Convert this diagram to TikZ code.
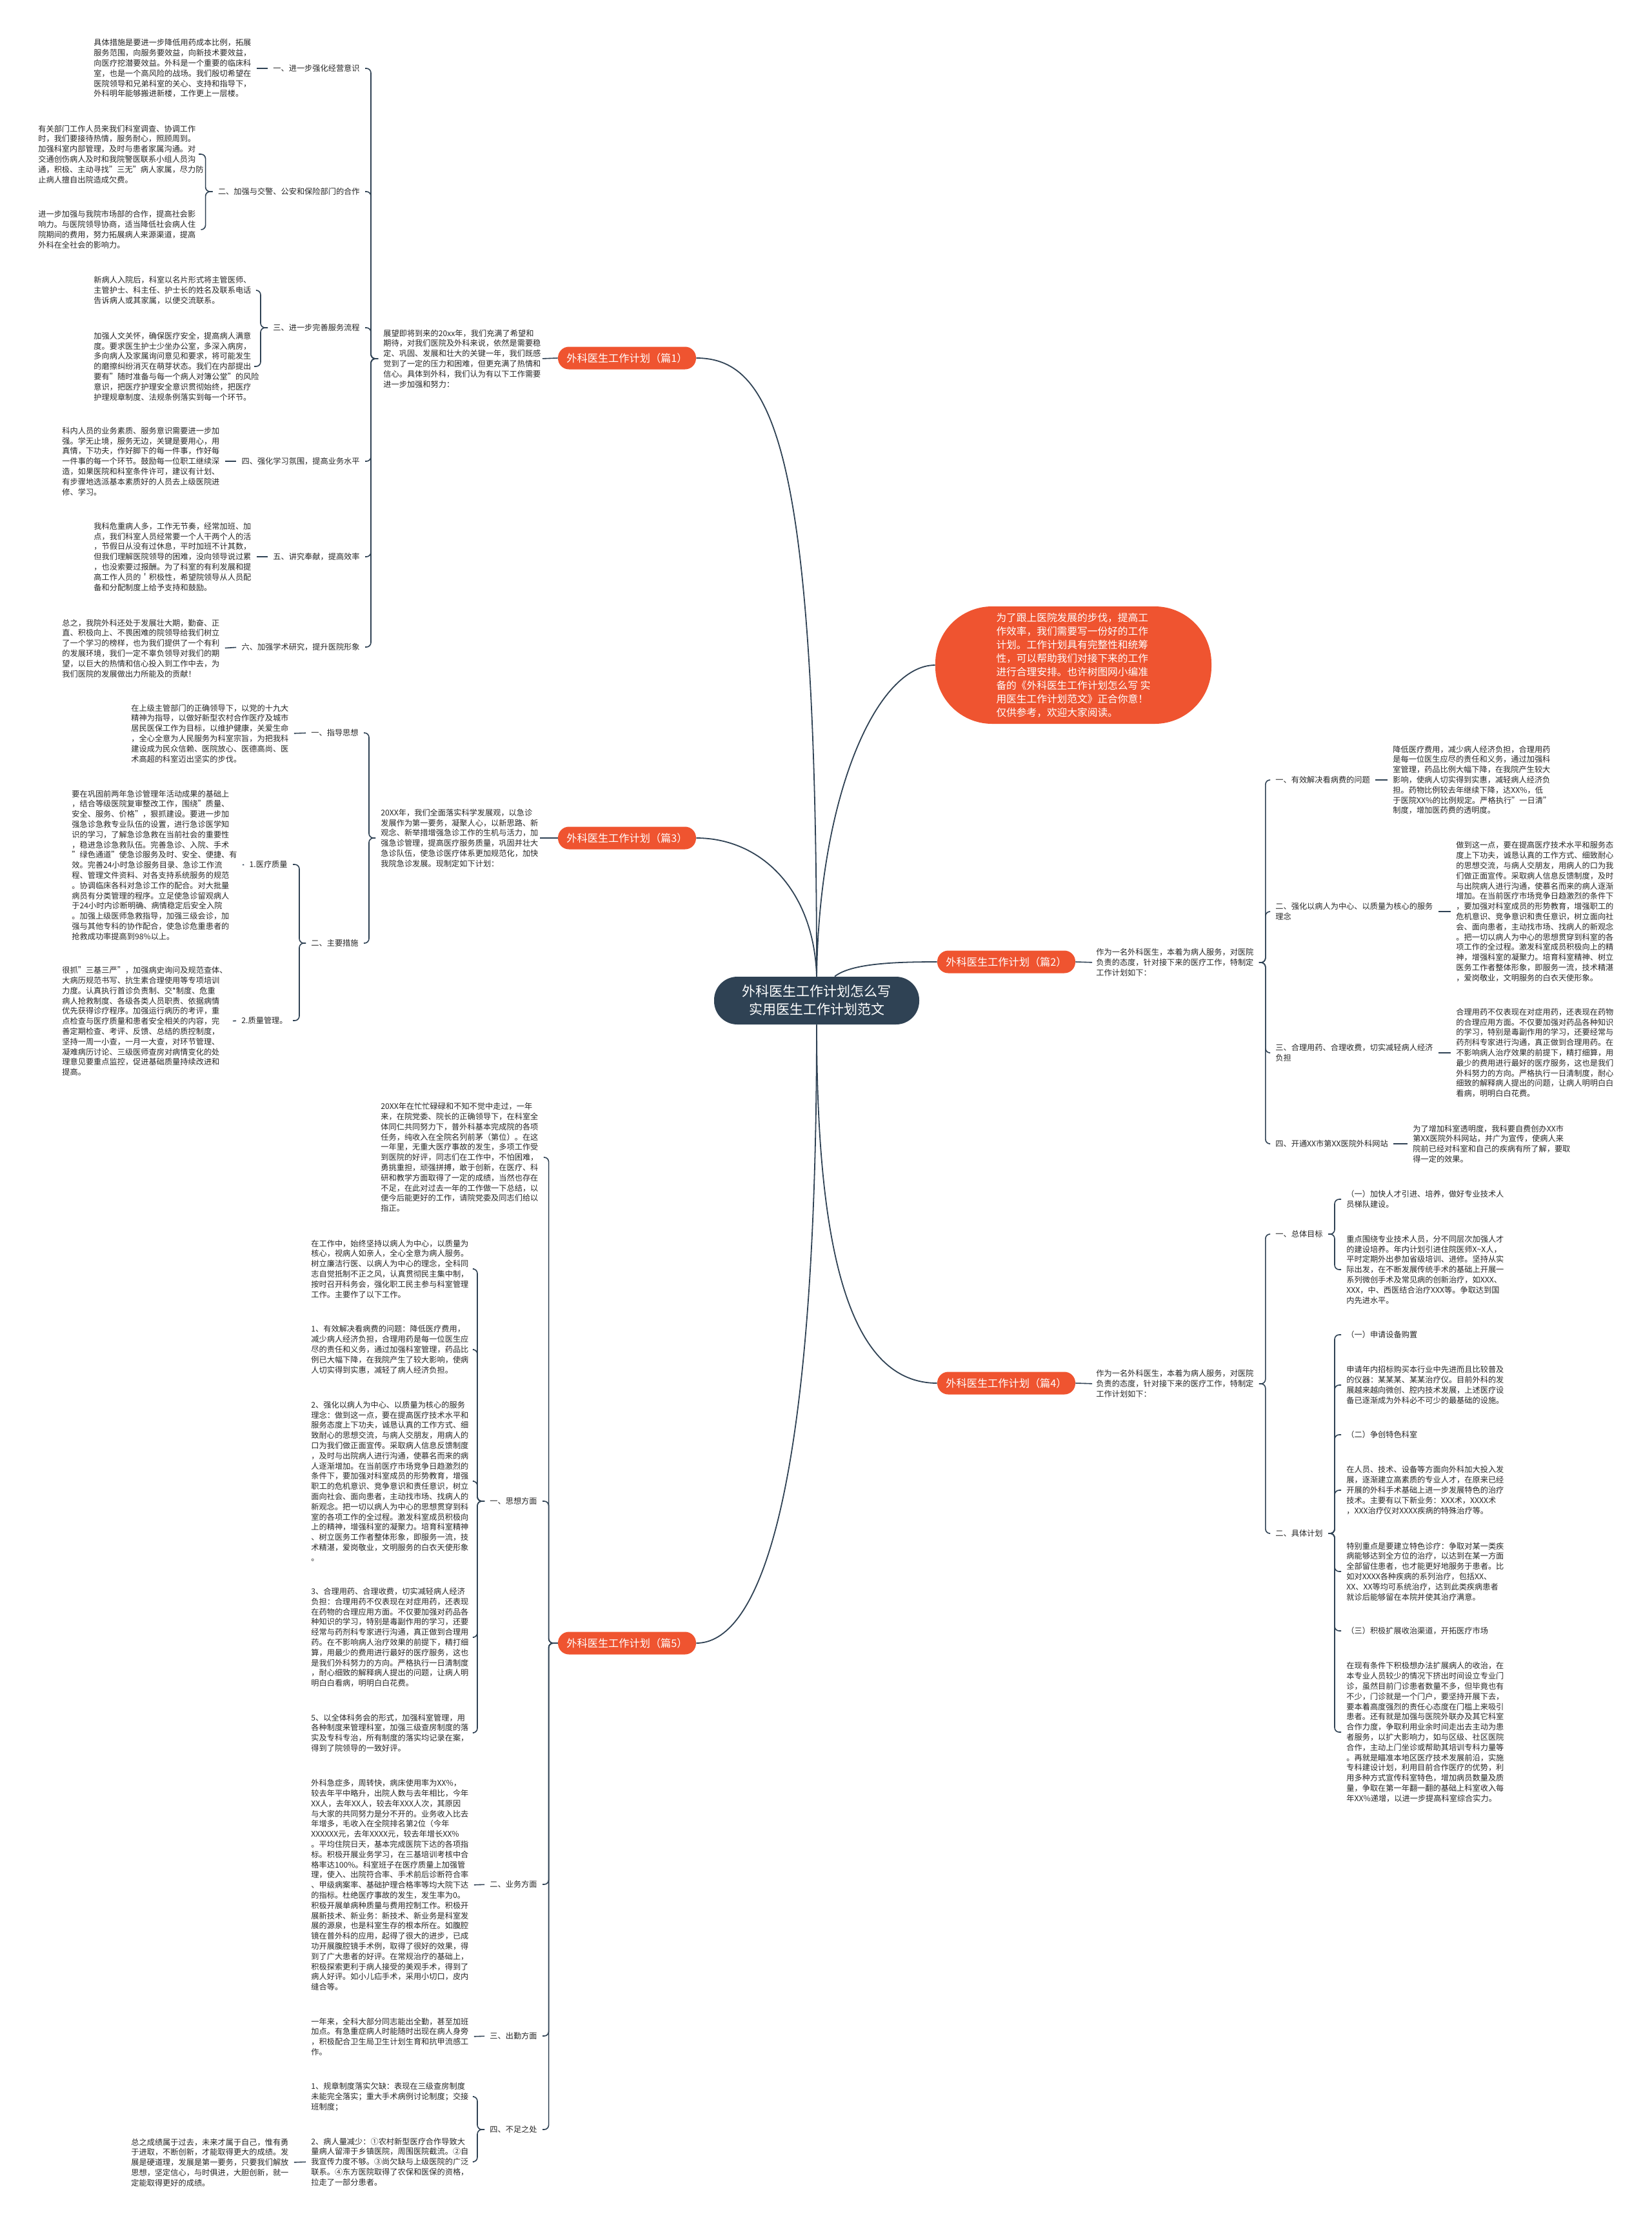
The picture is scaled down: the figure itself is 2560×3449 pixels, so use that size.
\documentclass[tikz,border=0pt]{standalone}
\usepackage{fontspec}
\setmainfont{Noto Sans CJK SC}
\definecolor{ink}{HTML}{2F4254}
\definecolor{accent}{HTML}{EF5430}

\begin{document}
\begin{tikzpicture}[
        x=0.5pt, y=-0.5pt,
        leaf/.style={inner sep=0pt, align=left, text=black!85, font=\fontsize{6.1pt}{7.9pt}\selectfont},
        branch/.style={fill=accent, text=white, rounded corners=8.5pt, minimum width=107pt, minimum height=17.5pt, inner sep=0pt, font=\fontsize{8.1pt}{10pt}\selectfont},
        root/.style={fill=ink, text=white, rounded corners=18pt, minimum width=159pt, minimum height=37pt, align=center, font=\fontsize{10.5pt}{14pt}\selectfont},
        intro/.style={fill=accent, text=white, rounded corners=44pt, minimum width=214pt, minimum height=91pt, align=left, font=\fontsize{7.85pt}{10.5pt}\selectfont},
        link/.style={draw=ink, line width=0.8pt, shorten <=4pt, shorten >=4pt},
        fork/.style={link, rounded corners=3.5pt},
        stem/.style={draw=ink, line width=0.9pt}
    ]
        \useasboundingbox (0,0) rectangle (2560,3449);

        \node[root] (root) at (1266,1551) {外科医生工作计划怎么写\\实用医生工作计划范文};
        \node[intro] (intro) at (1664,1031) {为了跟上医院发展的步伐，提高工\\作效率，我们需要写一份好的工作\\计划。工作计划具有完整性和统筹\\性，可以帮助我们对接下来的工作\\进行合理安排。也许树图网小编准\\备的《外科医生工作计划怎么写 实\\用医生工作计划范文》正合你意！\\仅供参考，欢迎大家阅读。};

        \node[branch] (p1) at (972,555) {外科医生工作计划（篇1）};
        \node[branch] (p3) at (972,1299) {外科医生工作计划（篇3）};
        \node[branch] (p5) at (972,2547) {外科医生工作计划（篇5）};
        \node[branch] (p2) at (1560,1491) {外科医生工作计划（篇2）};
        \node[branch] (p4) at (1560,2144) {外科医生工作计划（篇4）};

        \draw[stem] (root.north) .. controls (1266,700) and (1200,555) .. (p1.east);
        \draw[stem] (root.north) .. controls (1262,1380) and (1180,1299) .. (p3.east);
        \draw[stem] (root.north) .. controls (1270,1230) and (1360,1031) .. (intro.west);
        \draw[stem] ([xshift=14pt]root.north) .. controls (1320,1493) and (1390,1491) .. (p2.west);
        \draw[stem] (root.south) .. controls (1266,1950) and (1320,2144) .. (p4.west);
        \draw[stem] (root.south) .. controls (1266,2350) and (1170,2547) .. (p5.east);

        % 篇1
        \node[leaf, anchor=west] (p1-intro) at (594,556) {展望即将到来的20xx年，我们充满了希望和\\期待，对我们医院及外科来说，依然是需要稳\\定、巩固、发展和壮大的关键一年，我们既感\\觉到了一定的压力和困难，但更充满了热情和\\信心。具体到外科，我们认为有以下工作需要\\进一步加强和努力：};
        \node[leaf, anchor=east] (p1-s1) at (558,106) {一、进一步强化经营意识};
        \node[leaf, anchor=west] (p1-s1-t) at (145,106) {具体措施是要进一步降低用药成本比例，拓展\\服务范围，向服务要效益，向新技术要效益，\\向医疗挖潜要效益。外科是一个重要的临床科\\室，也是一个高风险的战场。我们殷切希望在\\医院领导和兄弟科室的关心、支持和指导下，\\外科明年能够搬进新楼，工作更上一层楼。};
        \node[leaf, anchor=east] (p1-s2) at (558,297) {二、加强与交警、公安和保险部门的合作};
        \node[leaf, anchor=west] (p1-s2-t1) at (59,239) {有关部门工作人员来我们科室调查、协调工作\\时，我们要接待热情，服务耐心，照顾周到。\\加强科室内部管理，及时与患者家属沟通。对\\交通创伤病人及时和我院警医联系小组人员沟\\通，积极、主动寻找"三无"病人家属，尽力防\\止病人擅自出院造成欠费。};
        \node[leaf, anchor=west] (p1-s2-t2) at (59,356) {进一步加强与我院市场部的合作，提高社会影\\响力。与医院领导协商，适当降低社会病人住\\院期间的费用，努力拓展病人来源渠道，提高\\外科在全社会的影响力。};
        \node[leaf, anchor=east] (p1-s3) at (558,508) {三、进一步完善服务流程};
        \node[leaf, anchor=west] (p1-s3-t1) at (145,450) {新病人入院后，科室以名片形式将主管医师、\\主管护士、科主任、护士长的姓名及联系电话\\告诉病人或其家属，以便交流联系。};
        \node[leaf, anchor=west] (p1-s3-t2) at (145,568) {加强人文关怀，确保医疗安全，提高病人满意\\度。要求医生护士少坐办公室，多深入病房，\\多向病人及家属询问意见和要求，将可能发生\\的磨擦纠纷消灭在萌芽状态。我们在内部提出\\要有"随时准备与每一个病人对簿公堂"的风险\\意识，把医疗护理安全意识贯彻始终，把医疗\\护理规章制度、法规条例落实到每一个环节。};
        \node[leaf, anchor=east] (p1-s4) at (558,715) {四、强化学习氛围，提高业务水平};
        \node[leaf, anchor=west] (p1-s4-t) at (96,715) {科内人员的业务素质、服务意识需要进一步加\\强。学无止境，服务无边，关键是要用心，用\\真情，下功夫，作好脚下的每一件事，作好每\\一件事的每一个环节。鼓励每一位职工继续深\\造，如果医院和科室条件许可，建议有计划、\\有步骤地选派基本素质好的人员去上级医院进\\修、学习。};
        \node[leaf, anchor=east] (p1-s5) at (558,863) {五、讲究奉献，提高效率};
        \node[leaf, anchor=west] (p1-s5-t) at (145,863) {我科危重病人多，工作无节奏，经常加班、加\\点，我们科室人员经常要一个人干两个人的活\\，节假日从没有过休息，平时加班不计其数，\\但我们理解医院领导的困难，没向领导说过累\\，也没索要过报酬。为了科室的有利发展和提\\高工作人员的＇积极性，希望院领导从人员配\\备和分配制度上给予支持和鼓励。};
        \node[leaf, anchor=east] (p1-s6) at (558,1003) {六、加强学术研究，提升医院形象};
        \node[leaf, anchor=west] (p1-s6-t) at (96,1005) {总之，我院外科还处于发展壮大期，勤奋、正\\直、积极向上、不畏困难的院领导给我们树立\\了一个学习的榜样，也为我们提供了一个有利\\的发展环境，我们一定不辜负领导对我们的期\\望，以巨大的热情和信心投入到工作中去，为\\我们医院的发展做出力所能及的贡献！};

        \draw[link, shorten <=0pt, shorten >=1pt] (p1.west) -- (p1-intro.east);
        \draw[fork] (p1-intro.west) -- ++(-19,0) |- (p1-s1.east);
        \draw[fork] (p1-intro.west) -- ++(-19,0) |- (p1-s2.east);
        \draw[fork] (p1-intro.west) -- ++(-19,0) |- (p1-s3.east);
        \draw[fork] (p1-intro.west) -- ++(-19,0) |- (p1-s4.east);
        \draw[fork] (p1-intro.west) -- ++(-19,0) |- (p1-s5.east);
        \draw[fork] (p1-intro.west) -- ++(-19,0) |- (p1-s6.east);
        \draw[link] (p1-s1.west) -- (p1-s1-t.east);
        \draw[fork] (p1-s2.west) -- ++(-19,0) |- (p1-s2-t1.east);
        \draw[fork] (p1-s2.west) -- ++(-19,0) |- (p1-s2-t2.east);
        \draw[fork] (p1-s3.west) -- ++(-19,0) |- (p1-s3-t1.east);
        \draw[fork] (p1-s3.west) -- ++(-19,0) |- (p1-s3-t2.east);
        \draw[link] (p1-s4.west) -- (p1-s4-t.east);
        \draw[link] (p1-s5.west) -- (p1-s5-t.east);
        \draw[link] (p1-s6.west) -- (p1-s6-t.east);

        % 篇3
        \node[leaf, anchor=west] (p3-intro) at (590,1299) {20XX年，我们全面落实科学发展观，以急诊\\发展作为第一要务，凝聚人心，以新思路、新\\观念、新举措增强急诊工作的生机与活力，加\\强急诊管理，提高医疗服务质量，巩固并壮大\\急诊队伍，使急诊医疗体系更加规范化，加快\\我院急诊发展。现制定如下计划：};
        \node[leaf, anchor=east] (p3-s1) at (556,1136) {一、指导思想};
        \node[leaf, anchor=west] (p3-s1-t) at (203,1137) {在上级主管部门的正确领导下，以党的十九大\\精神为指导，以做好新型农村合作医疗及城市\\居民医保工作为目标，以维护健康，关爱生命\\，全心全意为人民服务为科室宗旨，为把我科\\建设成为民众信赖、医院放心、医德高尚、医\\术高超的科室迈出坚实的步伐。};
        \node[leaf, anchor=east] (p3-s2) at (556,1462) {二、主要措施};
        \node[leaf, anchor=east] (p3-s2-a) at (446,1340) {1.医疗质量};
        \node[leaf, anchor=west] (p3-s2-a-t) at (111,1341) {要在巩固前两年急诊管理年活动成果的基础上\\，结合等级医院复审整改工作，围绕"质量、\\安全、服务、价格"，狠抓建设。要进一步加\\强急诊急救专业队伍的设置，进行急诊医学知\\识的学习，了解急诊急救在当前社会的重要性\\，稳进急诊急救队伍。完善急诊、入院、手术\\"绿色通道"使急诊服务及时、安全、便捷、有\\效。完善24小时急诊服务目录、急诊工作流\\程、管理文件资料、对各支持系统服务的规范\\。协调临床各科对急诊工作的配合。对大批量\\病员有分类管理的程序。立足使急诊留观病人\\于24小时内诊断明确、病情稳定后安全入院\\。加强上级医师急救指导，加强三级会诊，加\\强与其他专科的协作配合，使急诊危重患者的\\抢救成功率提高到98\%以上。};
        \node[leaf, anchor=east] (p3-s2-b) at (446,1582) {2.质量管理。};
        \node[leaf, anchor=west] (p3-s2-b-t) at (96,1583) {很抓"三基三严"，加强病史询问及规范查体、\\大病历规范书写、抗生素合理使用等专项培训\\力度。认真执行首诊负责制、交*制度、危重\\病人抢救制度、各级各类人员职责、依据病情\\优先获得诊疗程序。加强运行病历的考评，重\\点检查与医疗质量和患者安全相关的内容，完\\善定期检查、考评、反馈、总结的质控制度，\\坚持一周一小查，一月一大查，对环节管理、\\凝难病历讨论、三级医师查房对病情变化的处\\理意见要重点监控，促进基础质量持续改进和\\提高。};

        \draw[link, shorten <=0pt, shorten >=1pt] (p3.west) -- (p3-intro.east);
        \draw[fork] (p3-intro.west) -- ++(-18,0) |- (p3-s1.east);
        \draw[fork] (p3-intro.west) -- ++(-18,0) |- (p3-s2.east);
        \draw[link] (p3-s1.west) -- (p3-s1-t.east);
        \draw[fork] (p3-s2.west) -- ++(-18,0) |- (p3-s2-a.east);
        \draw[fork] (p3-s2.west) -- ++(-18,0) |- (p3-s2-b.east);
        \draw[link] (p3-s2-a.west) -- (p3-s2-a-t.east);
        \draw[link] (p3-s2-b.west) -- (p3-s2-b-t.east);

        % 篇5
        \node[leaf, anchor=west] (p5-intro) at (590,1794) {20XX年在忙忙碌碌和不知不觉中走过，一年\\来，在院党委、院长的正确领导下，在科室全\\体同仁共同努力下，普外科基本完成院的各项\\任务，纯收入在全院名列前茅（第位）。在这\\一年里，无重大医疗事故的发生，多项工作受\\到医院的好评，同志们在工作中，不怕困难，\\勇挑重担，顽强拼搏，敢于创新，在医疗、科\\研和教学方面取得了一定的成绩，当然也存在\\不足，在此对过去一年的工作做一下总结，以\\便今后能更好的工作，请院党委及同志们给以\\指正。};
        \node[leaf, anchor=east] (p5-s1) at (833,2327) {一、思想方面};
        \node[leaf, anchor=west] (p5-s1-t1) at (482,1967) {在工作中，始终坚持以病人为中心，以质量为\\核心，视病人如亲人，全心全意为病人服务。\\树立廉洁行医、以病人为中心的理念，全科同\\志自觉抵制不正之风，认真贯彻民主集中制，\\按时召开科务会，强化职工民主参与科室管理\\工作。主要作了以下工作。};
        \node[leaf, anchor=west] (p5-s1-t2) at (482,2092) {1、有效解决看病费的问题：降低医疗费用，\\减少病人经济负担，合理用药是每一位医生应\\尽的责任和义务，通过加强科室管理，药品比\\例已大幅下降，在我院产生了较大影响，使病\\人切实得到实惠，减轻了病人经济负担。};
        \node[leaf, anchor=west] (p5-s1-t3) at (482,2296) {2、强化以病人为中心、以质量为核心的服务\\理念：做到这一点，要在提高医疗技术水平和\\服务态度上下功夫，诚恳认真的工作方式、细\\致耐心的思想交流，与病人交朋友，用病人的\\口为我们做正面宣传。采取病人信息反馈制度\\，及时与出院病人进行沟通，使慕名而来的病\\人逐渐增加。在当前医疗市场竞争日趋激烈的\\条件下，要加强对科室成员的形势教育，增强\\职工的危机意识、竞争意识和责任意识，树立\\面向社会、面向患者，主动找市场、找病人的\\新观念。把一切以病人为中心的思想贯穿到科\\室的各项工作的全过程。激发科室成员积极向\\上的精神，增强科室的凝聚力。培育科室精神\\、树立医务工作者整体形象，即服务一流，技\\术精湛，爱岗敬业，文明服务的白衣天使形象\\。};
        \node[leaf, anchor=west] (p5-s1-t4) at (482,2538) {3、合理用药、合理收费，切实减轻病人经济\\负担：合理用药不仅表现在对症用药，还表现\\在药物的合理应用方面。不仅要加强对药品各\\种知识的学习，特别是毒副作用的学习，还要\\经常与药剂科专家进行沟通，真正做到合理用\\药。在不影响病人治疗效果的前提下，精打细\\算，用最少的费用进行最好的医疗服务，这也\\是我们外科努力的方向。严格执行一日清制度\\，耐心细致的解释病人提出的问题，让病人明\\明白白看病，明明白白花费。};
        \node[leaf, anchor=west] (p5-s1-t5) at (482,2686) {5、以全体科务会的形式，加强科室管理，用\\各种制度来管理科室，加强三级查房制度的落\\实及专科专治，所有制度的落实均记录在案，\\得到了院领导的一致好评。};
        \node[leaf, anchor=east] (p5-s2) at (833,2921) {二、业务方面};
        \node[leaf, anchor=west] (p5-s2-t) at (482,2922) {外科急症多，周转快，病床使用率为XX\%，\\较去年平中略升，出院人数与去年相比，今年\\XX人，去年XX人，较去年XXX人次，其原因\\与大家的共同努力是分不开的。业务收入比去\\年增多，毛收入在全院排名第2位（今年\\XXXXXX元，去年XXXX元，较去年增长XX\%\\。平均住院日天，基本完成医院下达的各项指\\标。积极开展业务学习，在三基培训考核中合\\格率达100\%。科室班子在医疗质量上加强管\\理，使入、出院符合率、手术前后诊断符合率\\、甲级病案率、基础护理合格率等均大院下达\\的指标。杜绝医疗事故的发生，发生率为0。\\积极开展单病种质量与费用控制工作。积极开\\展新技术、新业务：新技术、新业务是科室发\\展的源泉，也是科室生存的根本所在。如腹腔\\镜在普外科的应用，起得了很大的进步，已成\\功开展腹腔镜手术例，取得了很好的效果，得\\到了广大患者的好评。在常规治疗的基础上，\\积极探索更利于病人接受的美观手术，得到了\\病人好评。如小儿疝手术，采用小切口，皮内\\缝合等。};
        \node[leaf, anchor=east] (p5-s3) at (833,3156) {三、出勤方面};
        \node[leaf, anchor=west] (p5-s3-t) at (482,3157) {一年来，全科大部分同志能出全勤，甚至加班\\加点。有急重症病人时能随时出现在病人身旁\\，积极配合卫生局卫生计划生育和抗甲流感工\\作。};
        \node[leaf, anchor=east] (p5-s4) at (833,3301) {四、不足之处};
        \node[leaf, anchor=west] (p5-s4-t1) at (482,3250) {1、规章制度落实欠缺：表现在三级查房制度\\未能完全落实；重大手术病例讨论制度；交接\\班制度；};
        \node[leaf, anchor=west] (p5-s4-t2) at (482,3351) {2、病人量减少：①农村新型医疗合作导致大\\量病人留滞于乡镇医院，周围医院截流。②自\\我宣传力度不够。③尚欠缺与上级医院的广泛\\联系。④东方医院取得了农保和医保的资格，\\拉走了一部分患者。};
        \node[leaf, anchor=west] (p5-s4-t3) at (203,3352) {总之成绩属于过去，未来才属于自己，惟有勇\\于进取，不断创新，才能取得更大的成绩。发\\展是硬道理，发展是第一要务，只要我们解放\\思想，坚定信心，与时俱进，大胆创新，就一\\定能取得更好的成绩。};

        \draw[fork, shorten <=0pt] (p5.west) -- ++(-14,0) |- (p5-intro.east);
        \draw[fork, shorten <=0pt] (p5.west) -- ++(-14,0) |- (p5-s1.east);
        \draw[fork, shorten <=0pt] (p5.west) -- ++(-14,0) |- (p5-s2.east);
        \draw[fork, shorten <=0pt] (p5.west) -- ++(-14,0) |- (p5-s3.east);
        \draw[fork, shorten <=0pt] (p5.west) -- ++(-14,0) |- (p5-s4.east);
        \draw[fork] (p5-s1.west) -- ++(-19,0) |- (p5-s1-t1.east);
        \draw[fork] (p5-s1.west) -- ++(-19,0) |- (p5-s1-t2.east);
        \draw[fork] (p5-s1.west) -- ++(-19,0) |- (p5-s1-t3.east);
        \draw[fork] (p5-s1.west) -- ++(-19,0) |- (p5-s1-t4.east);
        \draw[fork] (p5-s1.west) -- ++(-19,0) |- (p5-s1-t5.east);
        \draw[link] (p5-s2.west) -- (p5-s2-t.east);
        \draw[link] (p5-s3.west) -- (p5-s3-t.east);
        \draw[fork] (p5-s4.west) -- ++(-19,0) |- (p5-s4-t1.east);
        \draw[fork] (p5-s4.west) -- ++(-19,0) |- (p5-s4-t2.east);
        \draw[link] (p5-s4-t2.west) -- (p5-s4-t3.east);

        % 篇2
        \node[leaf, anchor=west] (p2-intro) at (1699,1492) {作为一名外科医生，本着为病人服务，对医院\\负责的态度，针对接下来的医疗工作，特制定\\工作计划如下：};
        \node[leaf, anchor=west] (p2-s1) at (1977,1209) {一、有效解决看病费的问题};
        \node[leaf, anchor=west] (p2-s1-t) at (2159,1209) {降低医疗费用，减少病人经济负担，合理用药\\是每一位医生应尽的责任和义务，通过加强科\\室管理，药品比例大幅下降，在我院产生较大\\影响，使病人切实得到实惠，减轻病人经济负\\担。药物比例较去年继续下降，达XX\%，低\\于医院XX\%的比例规定。严格执行"一日清"\\制度，增加医药费的透明度。};
        \node[leaf, anchor=west] (p2-s2) at (1977,1413) {二、强化以病人为中心、以质量为核心的服务\\理念};
        \node[leaf, anchor=west] (p2-s2-t) at (2257,1413) {做到这一点，要在提高医疗技术水平和服务态\\度上下功夫，诚恳认真的工作方式、细致耐心\\的思想交流，与病人交朋友，用病人的口为我\\们做正面宣传。采取病人信息反馈制度，及时\\与出院病人进行沟通，使慕名而来的病人逐渐\\增加。在当前医疗市场竞争日趋激烈的条件下\\，要加强对科室成员的形势教育，增强职工的\\危机意识、竞争意识和责任意识，树立面向社\\会、面向患者，主动找市场、找病人的新观念\\。把一切以病人为中心的思想贯穿到科室的各\\项工作的全过程。激发科室成员积极向上的精\\神，增强科室的凝聚力。培育科室精神、树立\\医务工作者整体形象，即服务一流，技术精湛\\，爱岗敬业，文明服务的白衣天使形象。};
        \node[leaf, anchor=west] (p2-s3) at (1977,1632) {三、合理用药、合理收费，切实减轻病人经济\\负担};
        \node[leaf, anchor=west] (p2-s3-t) at (2257,1632) {合理用药不仅表现在对症用药，还表现在药物\\的合理应用方面。不仅要加强对药品各种知识\\的学习，特别是毒副作用的学习，还要经常与\\药剂科专家进行沟通，真正做到合理用药。在\\不影响病人治疗效果的前提下，精打细算，用\\最少的费用进行最好的医疗服务，这也是我们\\外科努力的方向。严格执行一日清制度，耐心\\细致的解释病人提出的问题，让病人明明白白\\看病，明明白白花费。};
        \node[leaf, anchor=west] (p2-s4) at (1977,1773) {四、开通XX市第XX医院外科网站};
        \node[leaf, anchor=west] (p2-s4-t) at (2190,1773) {为了增加科室透明度，我科要自费创办XX市\\第XX医院外科网站，并广为宣传，使病人来\\院前已经对科室和自己的疾病有所了解，要取\\得一定的效果。};

        \draw[link, shorten <=0pt, shorten >=3pt] (p2.east) -- (p2-intro.west);
        \draw[fork] (p2-intro.east) -- ++(18,0) |- (p2-s1.west);
        \draw[fork] (p2-intro.east) -- ++(18,0) |- (p2-s2.west);
        \draw[fork] (p2-intro.east) -- ++(18,0) |- (p2-s3.west);
        \draw[fork] (p2-intro.east) -- ++(18,0) |- (p2-s4.west);
        \draw[link] (p2-s1.east) -- (p2-s1-t.west);
        \draw[link] (p2-s2.east) -- (p2-s2-t.west);
        \draw[link] (p2-s3.east) -- (p2-s3-t.west);
        \draw[link] (p2-s4.east) -- (p2-s4-t.west);

        % 篇4
        \node[leaf, anchor=west] (p4-intro) at (1699,2145) {作为一名外科医生，本着为病人服务，对医院\\负责的态度，针对接下来的医疗工作，特制定\\工作计划如下：};
        \node[leaf, anchor=west] (p4-s1) at (1977,1913) {一、总体目标};
        \node[leaf, anchor=west] (p4-s1-t1) at (2087,1859) {（一）加快人才引进、培养，做好专业技术人\\员梯队建设。};
        \node[leaf, anchor=west] (p4-s1-t2) at (2087,1968) {重点围绕专业技术人员，分不同层次加强人才\\的建设培养。年内计划引进住院医师X\textasciitilde X人，\\平时定期外出参加省级培训、进修。坚持从实\\际出发，在不断发展传统手术的基础上开展一\\系列微创手术及常见病的创新治疗，如XXX、\\XXX，中、西医结合治疗XXX等。争取达到国\\内先进水平。};
        \node[leaf, anchor=west] (p4-s2) at (1977,2377) {二、具体计划};
        \node[leaf, anchor=west] (p4-s2-t1) at (2087,2069) {（一）申请设备购置};
        \node[leaf, anchor=west] (p4-s2-t2) at (2087,2147) {申请年内招标购买本行业中先进而且比较普及\\的仪器：某某某、某某治疗仪。目前外科的发\\展越来越向微创、腔内技术发展，上述医疗设\\备已逐渐成为外科必不可少的最基础的设施。};
        \node[leaf, anchor=west] (p4-s2-t3) at (2087,2224) {（二）争创特色科室};
        \node[leaf, anchor=west] (p4-s2-t4) at (2087,2310) {在人员、技术、设备等方面向外科加大投入发\\展，逐渐建立高素质的专业人才，在原来已经\\开展的外科手术基础上进一步发展特色的治疗\\技术。主要有以下新业务：XXX术，XXXX术\\，XXX治疗仪对XXXX疾病的特殊治疗等。};
        \node[leaf, anchor=west] (p4-s2-t5) at (2087,2436) {特别重点是要建立特色诊疗：争取对某一类疾\\病能够达到全方位的治疗，以达到在某一方面\\全部留住患者，也才能更好地服务于患者。比\\如对XXXX各种疾病的系列治疗，包括XX、\\XX、XX等均可系统治疗，达到此类疾病患者\\就诊后能够留在本院并使其治疗满意。};
        \node[leaf, anchor=west] (p4-s2-t6) at (2087,2528) {（三）积极扩展收治渠道，开拓医疗市场};
        \node[leaf, anchor=west] (p4-s2-t7) at (2087,2685) {在现有条件下积极想办法扩展病人的收治，在\\本专业人员较少的情况下挤出时间设立专业门\\诊，虽然目前门诊患者数量不多，但毕竟也有\\不少，门诊就是一个门户，要坚持开展下去，\\要本着高度强烈的责任心态度在门槛上来吸引\\患者。还有就是加强与医院外联办及其它科室\\合作力度，争取利用业余时间走出去主动为患\\者服务，以扩大影响力，如与区级、社区医院\\合作，主动上门坐诊或帮助其培训专科力量等\\。再就是瞄准本地区医疗技术发展前沿，实施\\专科建设计划，利用目前合作医疗的优势，利\\用多种方式宣传科室特色，增加病员数量及质\\量，争取在第一年翻一翻的基础上科室收入每\\年XX\%递增，以进一步提高科室综合实力。};

        \draw[link, shorten <=0pt, shorten >=3pt] (p4.east) -- (p4-intro.west);
        \draw[fork] (p4-intro.east) -- ++(18,0) |- (p4-s1.west);
        \draw[fork] (p4-intro.east) -- ++(18,0) |- (p4-s2.west);
        \draw[fork] (p4-s1.east) -- ++(18,0) |- (p4-s1-t1.west);
        \draw[fork] (p4-s1.east) -- ++(18,0) |- (p4-s1-t2.west);
        \draw[fork] (p4-s2.east) -- ++(18,0) |- (p4-s2-t1.west);
        \draw[fork] (p4-s2.east) -- ++(18,0) |- (p4-s2-t2.west);
        \draw[fork] (p4-s2.east) -- ++(18,0) |- (p4-s2-t3.west);
        \draw[fork] (p4-s2.east) -- ++(18,0) |- (p4-s2-t4.west);
        \draw[fork] (p4-s2.east) -- ++(18,0) |- (p4-s2-t5.west);
        \draw[fork] (p4-s2.east) -- ++(18,0) |- (p4-s2-t6.west);
        \draw[fork] (p4-s2.east) -- ++(18,0) |- (p4-s2-t7.west);
    \end{tikzpicture}
\end{document}
